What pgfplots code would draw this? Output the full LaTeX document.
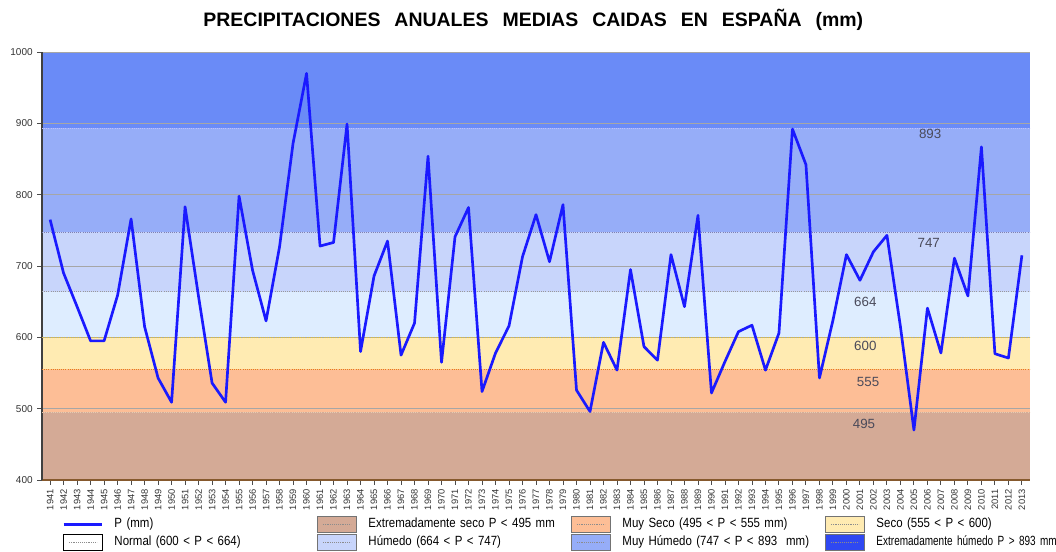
\documentclass[border=0pt]{standalone}
\usepackage{fontspec}
\setmainfont{Liberation Sans}
\newfontfamily\narrowfont[FakeStretch=0.86]{Liberation Sans}
\newfontfamily\narrowerfont[FakeStretch=0.75]{Liberation Sans}
\usepackage{pgfplots}
\pgfplotsset{compat=1.18}

\definecolor{pline}{HTML}{1A1AFF}
\definecolor{bExS}{HTML}{D4AA96}
\definecolor{bMuyS}{HTML}{FDBE96}
\definecolor{bSeco}{HTML}{FFEBB2}
\definecolor{bNorm}{HTML}{DEEDFF}
\definecolor{bHum}{HTML}{C8D5FB}
\definecolor{bMuyH}{HTML}{96ADF8}
\definecolor{bExH}{HTML}{6A8BF7}
\definecolor{lExH}{HTML}{2F48F2}
\definecolor{lbl}{HTML}{4A4A5A}

\pgfplotstableread{
year P
1941 765
1942 690
1943 643
1944 595
1945 595
1946 659
1947 766
1948 615
1949 543
1950 509
1951 783
1952 657
1953 536
1954 509
1955 798
1956 694
1957 623
1958 727
1959 872
1960 970
1961 728
1962 733
1963 899
1964 580
1965 686
1966 735
1967 575
1968 620
1969 854
1970 565
1971 741
1972 782
1973 524
1974 578
1975 616
1976 713
1977 772
1978 706
1979 786
1980 526
1981 496
1982 593
1983 554
1984 695
1985 587
1986 568
1987 716
1988 643
1989 771
1990 522
1991 566
1992 608
1993 617
1994 554
1995 606
1996 892
1997 842
1998 543
1999 624
2000 716
2001 680
2002 720
2003 743
2004 615
2005 470
2006 641
2007 578
2008 711
2009 658
2010 867
2011 577
2012 571
2013 715
}\precip

\pgfplotsset{
  bandleg/.style={legend image code/.code={
      \draw[fill=#1, draw=black!55, line width=0.6pt] (0pt,-6pt) rectangle (29pt,6pt);
      \draw[densely dotted, black!45] (4pt,0pt) -- (25pt,0pt);
      \path (37pt,0pt);}},
}

\begin{document}
\begin{tikzpicture}
\begin{axis}[
  at={(31.5pt,53.25pt)}, anchor=south west,
  scale only axis, width=741pt, height=321pt,
  set layers,
  xmin=1940.4, xmax=2013.6, ymin=400, ymax=1000,
  axis x line*=bottom, axis y line*=left,
  x axis line style={draw=brown!70!black, line width=1pt},
  y axis line style={draw=black!75, line width=1pt},
  xtick={1941,1942,...,2013},
  ytick={400,500,...,1000},
  ymajorgrids,
  major grid style={black!35, line width=0.4pt},
  tick align=outside, major tick length=3.5pt,
  tick style={black!70, line width=0.6pt},
  /pgf/number format/1000 sep={},
  /pgf/number format/assume math mode=true,
  xticklabel={\pgfmathprintnumber[fixed,precision=0,1000 sep={}]{\tick}},
  xticklabel style={rotate=90, anchor=east, font=\fontsize{7}{8}\selectfont, text=black!80},
  yticklabel style={font=\fontsize{7.5}{9}\selectfont, text=black!80},
  legend columns=4,
  legend cell align=left,
  legend style={at={(axis description cs:0.0202,-0.083)}, anchor=north west,
    draw=none, fill=none, inner sep=0pt, row sep=1pt, column sep=0pt,
    font=\narrowfont\fontsize{10}{11}\selectfont,
    nodes={text width=151pt, align=left, inner xsep=1pt, inner ysep=1pt, text height=7pt, text depth=2pt}},
]
% legend entries
\addlegendimage{legend image code/.code={
    \draw[line width=2pt, pline] (0pt,0pt) -- (29pt,0pt); \path (37pt,0pt);}}
\addlegendentry{P (mm)}
\addlegendimage{bandleg=bExS}
\addlegendentry{Extremadamente seco P < 495 mm}
\addlegendimage{bandleg=bMuyS}
\addlegendentry{Muy Seco (495 < P < 555 mm)}
\addlegendimage{bandleg=bSeco}
\addlegendentry{Seco (555 < P < 600)}
\addlegendimage{legend image code/.code={
      \draw[fill=white, draw=black, line width=1pt] (0pt,-6pt) rectangle (29pt,6pt);
      \draw[densely dotted, black!45] (4pt,0pt) -- (25pt,0pt);
      \path (37pt,0pt);}}
\addlegendentry{Normal (600 < P < 664)}
\addlegendimage{bandleg=bHum}
\addlegendentry{Húmedo (664 < P < 747)}
\addlegendimage{bandleg=bMuyH}
\addlegendentry{Muy Húmedo (747 < P < 893~ mm)}
\addlegendimage{bandleg=lExH}
\addlegendentry{\mbox{\narrowerfont Extremadamente húmedo P > 893 mm}}

% bands
\addplot[forget plot, on layer=axis background, fill=bExS, draw=none]
  coordinates {(1940.4,400) (2013.6,400) (2013.6,495) (1940.4,495)} -- cycle;
\addplot[forget plot, on layer=axis background, fill=bMuyS, draw=none]
  coordinates {(1940.4,495) (2013.6,495) (2013.6,555) (1940.4,555)} -- cycle;
\addplot[forget plot, on layer=axis background, fill=bSeco, draw=none]
  coordinates {(1940.4,555) (2013.6,555) (2013.6,600) (1940.4,600)} -- cycle;
\addplot[forget plot, on layer=axis background, fill=bNorm, draw=none]
  coordinates {(1940.4,600) (2013.6,600) (2013.6,664) (1940.4,664)} -- cycle;
\addplot[forget plot, on layer=axis background, fill=bHum, draw=none]
  coordinates {(1940.4,664) (2013.6,664) (2013.6,747) (1940.4,747)} -- cycle;
\addplot[forget plot, on layer=axis background, fill=bMuyH, draw=none]
  coordinates {(1940.4,747) (2013.6,747) (2013.6,893) (1940.4,893)} -- cycle;
\addplot[forget plot, on layer=axis background, fill=bExH, draw=none]
  coordinates {(1940.4,893) (2013.6,893) (2013.6,1000) (1940.4,1000)} -- cycle;

% threshold lines
\addplot[forget plot, densely dotted, color=brown!40!white, line width=0.6pt] coordinates {(1940.4,495) (2013.6,495)};
\addplot[forget plot, densely dotted, color=orange!60!brown, line width=0.6pt] coordinates {(1940.4,555) (2013.6,555)};
\addplot[forget plot, densely dotted, color=yellow!50!brown, line width=0.6pt] coordinates {(1940.4,600) (2013.6,600)};
\addplot[forget plot, densely dotted, color=black!40, line width=0.6pt] coordinates {(1940.4,664) (2013.6,664)};
\addplot[forget plot, densely dotted, color=blue!40!black!50, line width=0.6pt] coordinates {(1940.4,747) (2013.6,747)};
\addplot[forget plot, densely dotted, color=white!75!blue, line width=0.6pt] coordinates {(1940.4,893) (2013.6,893)};

% precipitation series
\addplot[forget plot, pline, line width=2pt, line join=round] table[x=year, y=P] {\precip};

% threshold labels
\node[text=lbl, font=\fontsize{10}{12}\selectfont] at (axis cs:2006.2,885) {893};
\node[text=lbl, font=\fontsize{10}{12}\selectfont] at (axis cs:2006.1,732) {747};
\node[text=lbl, font=\fontsize{10}{12}\selectfont] at (axis cs:2001.4,650) {664};
\node[text=lbl, font=\fontsize{10}{12}\selectfont] at (axis cs:2001.4,588) {600};
\node[text=lbl, font=\fontsize{10}{12}\selectfont] at (axis cs:2001.6,537) {555};
\node[text=lbl, font=\fontsize{10}{12}\selectfont] at (axis cs:2001.3,478) {495};
\end{axis}
\node[font=\bfseries\fontsize{14.6}{17}\selectfont] at (400pt,398.25pt)
  {PRECIPITACIONES\hspace{10.5pt}ANUALES\hspace{10.5pt}MEDIAS\hspace{10.5pt}CAIDAS\hspace{10.5pt}EN\hspace{10.5pt}ESPAÑA\hspace{10.5pt}(mm)};
\pgfresetboundingbox
\useasboundingbox (0,0) rectangle (792pt,413.25pt);
\end{tikzpicture}
\end{document}
